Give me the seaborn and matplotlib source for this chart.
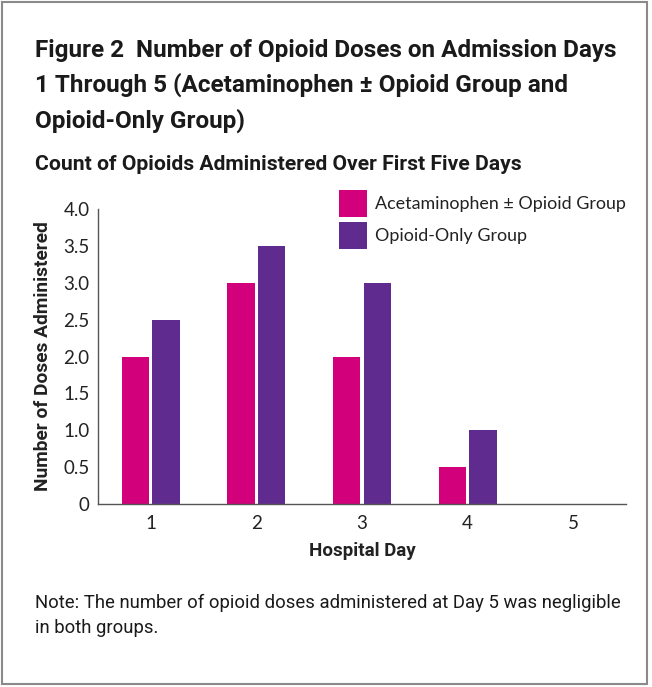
import matplotlib
matplotlib.use("Agg")
import matplotlib.pyplot as plt
import seaborn as sns
import pandas as pd
from matplotlib.patches import Rectangle, Patch

days = ["1", "2", "3", "4", "5"]
acet_opioid = [2.0, 3.0, 2.0, 0.5, 0.0]
opioid_only = [2.5, 3.5, 3.0, 1.0, 0.0]
groups = ["Acetaminophen \u00b1 Opioid Group", "Opioid-Only Group"]
colors = ["#D2007A", "#5F2B8E"]
yticks = [0, 0.5, 1.0, 1.5, 2.0, 2.5, 3.0, 3.5, 4.0]
ytick_labels = ["0", "0.5", "1.0", "1.5", "2.0", "2.5", "3.0", "3.5", "4.0"]

df = pd.DataFrame({
    "Day": days * 2,
    "Doses": acet_opioid + opioid_only,
    "Group": [groups[0]] * len(days) + [groups[1]] * len(days),
})

sns.set_theme(style="white")
plt.rcParams["font.family"] = ["Lato", "DejaVu Sans"]

fig = plt.figure(figsize=(6.52, 6.87), dpi=100)
ax = fig.add_axes([98 / 652, 1 - 504 / 687, (626 - 98) / 652, (504 - 209) / 687])

sns.barplot(data=df, x="Day", y="Doses", hue="Group", palette=colors,
            width=0.58, gap=0.1, ax=ax, legend=False, saturation=1,
            edgecolor="none")

ax.set_xlim(-0.5, 4.5)
ax.set_ylim(0, 4.0)
ax.set_yticks(yticks)
ax.set_yticklabels(ytick_labels)
for s in ["top", "right"]:
    ax.spines[s].set_visible(False)
for s in ["left", "bottom"]:
    ax.spines[s].set_color("#555555")
    ax.spines[s].set_linewidth(1.0)
ax.tick_params(axis="both", labelsize=13.5, colors="#222222", length=0, pad=6)
ax.tick_params(axis="x", pad=8)
bold_font = ["Roboto", "DejaVu Sans"]
ax.set_xlabel("Hospital Day", fontsize=13.5, fontweight="bold", color="#222222", labelpad=7,
              family=bold_font)
ax.set_ylabel("Number of Doses Administered", fontsize=13.8, fontweight="bold", color="#222222",
              labelpad=8, family=bold_font)

# legend
handles = [Patch(facecolor=c, edgecolor="none") for c in colors]
leg = fig.legend(handles, groups, loc="upper left", bbox_to_anchor=(332 / 652, 1 - 183 / 687),
                 frameon=False, fontsize=12.9, handlelength=1.55, handleheight=1.9,
                 handletextpad=0.45, labelspacing=0.3, borderaxespad=0)
for t in leg.get_texts():
    t.set_color("#222222")

# titles
fig.text(35 / 652, 1 - 39 / 687,
         "Figure 2  Number of Opioid Doses on Admission Days\n1 Through 5 (Acetaminophen \u00b1 Opioid Group and\nOpioid-Only Group)",
         fontsize=17.5, fontweight="bold", va="top", ha="left", color="#1a1a1a",
         family=bold_font, linespacing=1.58)
fig.text(35 / 652, 1 - 164 / 687, "Count of Opioids Administered Over First Five Days",
         fontsize=15.2, fontweight="bold", va="center", ha="left", color="#1a1a1a",
         family=bold_font)
fig.text(35 / 652, 1 - 594 / 687,
         "Note: The number of opioid doses administered at Day 5 was negligible\nin both groups.",
         fontsize=13.3, va="top", ha="left", color="#1a1a1a",
         family=bold_font, linespacing=1.5)

# border
fig.add_artist(Rectangle((1.5 / 652, 1 - 683.5 / 687), 645.5 / 652, 681.5 / 687,
                         transform=fig.transFigure, fill=False, edgecolor="#8a8a8a", linewidth=1.5))

fig.savefig("out.png", dpi=100)
